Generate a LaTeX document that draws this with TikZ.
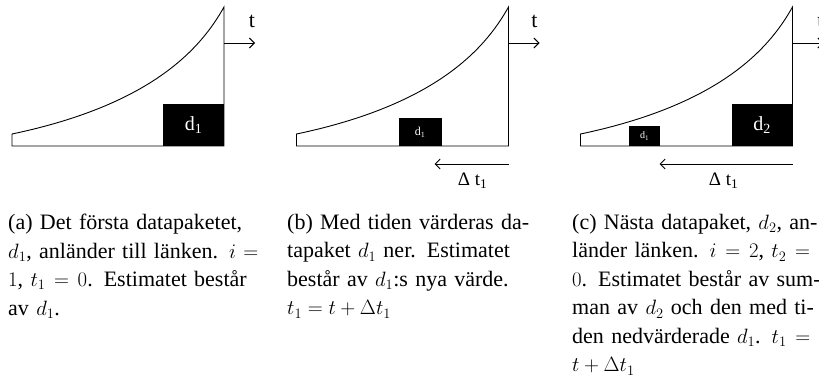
\documentclass[tikz,border=0pt]{standalone}
\usepackage[no-math]{fontspec}
\setmainfont{Liberation Serif}
\usetikzlibrary{arrows.meta}
\begin{document}
\begin{tikzpicture}[x=1pt,y=-1pt,
  ln/.style={line width=0.9pt,draw=black},
  pkt/.style={fill=black,draw=none,text=white,inner sep=0pt,anchor=center},
  tarrow/.style={ln,-{Straight Barb[length=5pt,width=10pt]}},
  captxt/.style={anchor=north west,inner sep=0pt,text width=261pt,
    font={\fontsize{22}{28.5}\selectfont\tolerance=10000 \hyphenpenalty=10000 }},
  lbl/.style={inner sep=0pt,font=\fontsize{22}{26}\selectfont},
  dlbl/.style={inner sep=0pt,font=\fontsize{19}{23}\selectfont}]
\useasboundingbox (0,0) rectangle (819,383);
\clip (0,0) rectangle (819,383);

% ---------- panel (a) ----------
\coordinate (a0) at (12,146);
\coordinate (a1) at (12,134);
\coordinate (a2) at (224,7);
\coordinate (a3) at (224,146);
\draw[ln] (a0) -- (a1) .. controls (150,105) and (200,50) .. (a2) -- (a3) -- cycle;
\node[pkt,minimum width=61pt,minimum height=42pt,font=\fontsize{20}{24}\selectfont] (pa) at (193.5,125) {d\textsubscript{1}};
\coordinate (ta0) at (224,43);
\coordinate (ta1) at (255,43);
\draw[tarrow] (ta0) -- (ta1);
\node[lbl] (tla) at (252,21) {t};

% ---------- panel (b) ----------
\begin{scope}[xshift=284.5pt]
\coordinate (b0) at (12,146);
\coordinate (b1) at (12,134);
\coordinate (b2) at (224,7);
\coordinate (b3) at (224,146);
\draw[ln] (b0) -- (b1) .. controls (150,105) and (200,50) .. (b2) -- (b3) -- cycle;
\node[pkt,minimum width=43pt,minimum height=28pt,font=\fontsize{12}{14}\selectfont] (pb) at (135.5,132) {d\textsubscript{1}};
\coordinate (tb0) at (224,43);
\coordinate (tb1) at (255,43);
\draw[tarrow] (tb0) -- (tb1);
\node[lbl] (tlb) at (250,21) {t};
\coordinate (db0) at (224,164);
\coordinate (db1) at (150,164);
\draw[tarrow] (db0) -- (db1);
\node[dlbl] (dlb) at (188,181) {Δ t\textsubscript{1}};
\end{scope}

% ---------- panel (c) ----------
\begin{scope}[xshift=568.5pt]
\coordinate (c0) at (12,146);
\coordinate (c1) at (12,134);
\coordinate (c2) at (224,7);
\coordinate (c3) at (224,146);
\draw[ln] (c0) -- (c1) .. controls (150,105) and (200,50) .. (c2) -- (c3) -- cycle;
\node[pkt,minimum width=31pt,minimum height=20pt,font=\fontsize{10}{12}\selectfont] (pc1) at (76,136) {d\textsubscript{1}};
\node[pkt,minimum width=60pt,minimum height=42pt,font=\fontsize{20}{24}\selectfont] (pc2) at (193.5,125) {d\textsubscript{2}};
\coordinate (tc0) at (224,43);
\coordinate (tc1) at (255,43);
\draw[tarrow] (tc0) -- (tc1);
\node[lbl] (tlc) at (252,21) {t};
\coordinate (dc0) at (224,164);
\coordinate (dc1) at (91,164);
\draw[tarrow] (dc0) -- (dc1);
\node[dlbl] (dlc) at (155,181) {Δ t\textsubscript{1}};
\end{scope}

% ---------- captions ----------
\node[captxt] (capa) at (8,214) {(a) Det första datapaketet,\linebreak
  $d_1$, anländer till länken. $i =$\linebreak
  $1$, $t_1 = 0$. Estimatet består\linebreak
  av $d_1$.};
\node[captxt] (capb) at (287,214) {(b) Med tiden värderas da-\linebreak
  tapaket $d_1$ ner. Estimatet\linebreak
  består av $d_1$:s nya värde.\linebreak
  $t_1 = t + \Delta t_1$};
\node[captxt] (capc) at (572,214) {(c) Nästa datapaket, $d_2$, an-\linebreak
  länder länken. $i = 2$, $t_2 =$\linebreak
  $0$. Estimatet består av sum-\linebreak
  man av $d_2$ och den med ti-\linebreak
  den nedvärderade $d_1$. $t_1 =$\linebreak
  $t + \Delta t_1$};
\end{tikzpicture}
\end{document}
